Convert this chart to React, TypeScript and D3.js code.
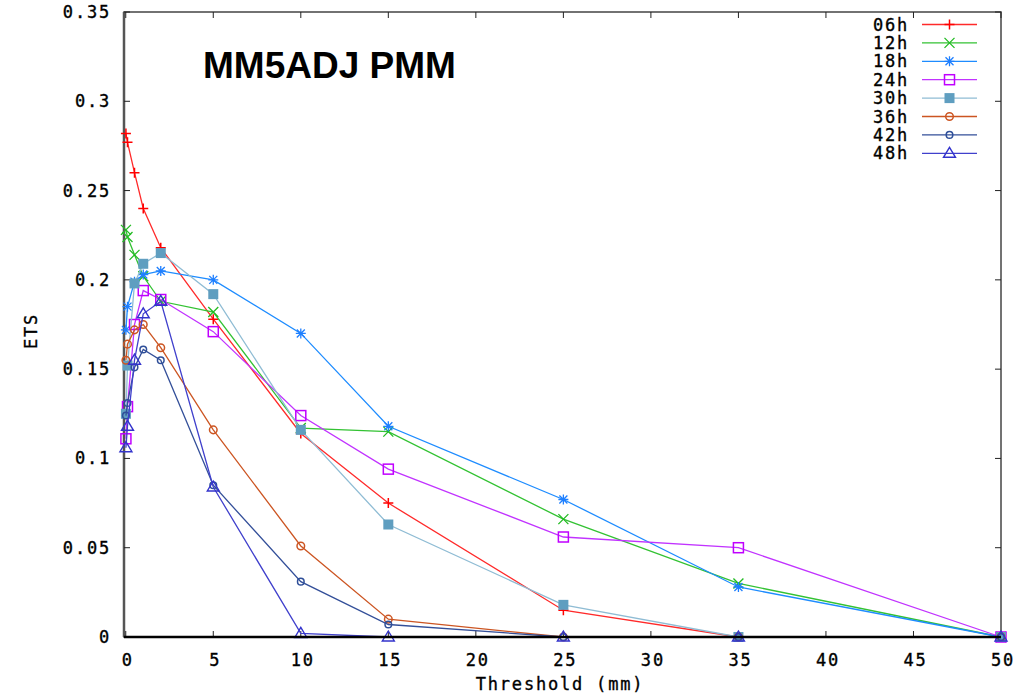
import React, { useEffect, useRef } from 'react';
import * as d3 from 'd3';

// thresholds (mm)
const thresholds = [0.01, 0.1, 0.5, 1, 2, 5, 10, 15, 25, 35, 50];

const s06h = [0.282, 0.277, 0.260, 0.240, 0.218, 0.178, 0.114, 0.075, 0.015, 0, 0];
const s12h = [0.228, 0.224, 0.214, 0.202, 0.188, 0.182, 0.117, 0.115, 0.066, 0.030, 0];
const s18h = [0.172, 0.185, 0.199, 0.203, 0.205, 0.200, 0.170, 0.118, 0.077, 0.028, 0];
const s24h = [0.111, 0.129, 0.175, 0.194, 0.189, 0.171, 0.124, 0.094, 0.056, 0.050, 0];
const s30h = [0.125, 0.152, 0.198, 0.209, 0.215, 0.192, 0.116, 0.063, 0.018, 0, 0];
const s36h = [0.155, 0.164, 0.172, 0.175, 0.162, 0.116, 0.051, 0.010, 0, 0, 0];
const s42h = [0.124, 0.131, 0.151, 0.161, 0.155, 0.085, 0.031, 0.007, 0, 0, 0];
const s48h = [0.106, 0.118, 0.155, 0.181, 0.188, 0.084, 0.002, 0, 0, 0, 0];

const seriesNames = ['06h', '12h', '18h', '24h', '30h', '36h', '42h', '48h'];
const seriesValues = [s06h, s12h, s18h, s24h, s30h, s36h, s42h, s48h];
const lineColors = ['#ff2a2a', '#33c233', '#1e8cff', '#c133ff', '#8fbcd4', '#cc5522', '#334f99', '#4040cc'];
const markColors = ['#ff0000', '#22bb22', '#1e7fff', '#c000ff', '#5f9ec0', '#cc5522', '#2f4f99', '#3333cc'];
const markers = ['plus', 'cross', 'star', 'square', 'fsquare', 'circle', 'circle2', 'triangle'];

const xTicks = [0, 5, 10, 15, 20, 25, 30, 35, 40, 45, 50];
const yTicks = [0, 0.05, 0.1, 0.15, 0.2, 0.25, 0.3, 0.35];
const yTickLabels = ['0', '0.05', '0.1', '0.15', '0.2', '0.25', '0.3', '0.35'];

const W = 1027;
const H = 696;
const left = 124, right = 1001, top = 12, bottom = 637;
const mono = '"DejaVu Sans Mono", monospace';

const drawMarker = (g, kind, x, y, color) => {
  const r = 5;
  if (kind === 'plus') {
    g.append('path').attr('d', `M${x - r},${y}H${x + r}M${x},${y - r}V${y + r}`)
      .attr('stroke', color).attr('stroke-width', 1.5);
  } else if (kind === 'cross') {
    g.append('path').attr('d', `M${x - r},${y - r}L${x + r},${y + r}M${x - r},${y + r}L${x + r},${y - r}`)
      .attr('stroke', color).attr('stroke-width', 1.3);
  } else if (kind === 'star') {
    g.append('path')
      .attr('d', `M${x - r},${y}H${x + r}M${x},${y - r}V${y + r}M${x - 4},${y - 4}L${x + 4},${y + 4}M${x - 4},${y + 4}L${x + 4},${y - 4}`)
      .attr('stroke', color).attr('stroke-width', 1.3);
  } else if (kind === 'square') {
    g.append('rect').attr('x', x - 5).attr('y', y - 5).attr('width', 10).attr('height', 10)
      .attr('fill', 'none').attr('stroke', color).attr('stroke-width', 1.5);
  } else if (kind === 'fsquare') {
    g.append('rect').attr('x', x - 5).attr('y', y - 5).attr('width', 10).attr('height', 10)
      .attr('fill', color);
  } else if (kind === 'circle') {
    g.append('circle').attr('cx', x).attr('cy', y).attr('r', 3.8)
      .attr('fill', 'none').attr('stroke', color).attr('stroke-width', 1.5);
  } else if (kind === 'circle2') {
    g.append('circle').attr('cx', x).attr('cy', y).attr('r', 3.3)
      .attr('fill', 'none').attr('stroke', color).attr('stroke-width', 1.5);
  } else if (kind === 'triangle') {
    g.append('path').attr('d', `M${x},${y - 6}L${x + 6},${y + 4}L${x - 6},${y + 4}Z`)
      .attr('fill', 'none').attr('stroke', color).attr('stroke-width', 1.4);
  }
};

const label = (sel) => sel
  .attr('font-family', mono).attr('font-size', 17).attr('letter-spacing', 1.8)
  .attr('fill', '#000').attr('stroke', '#000').attr('stroke-width', 0.35);

const App = () => {
  const svgRef = useRef(null);

  useEffect(() => {
    const svg = d3.select(svgRef.current);
    svg.selectAll('*').remove();

    const x = d3.scaleLinear().domain([-0.1, 50]).range([left, right]);
    const y = d3.scaleLinear().domain([0, 0.35]).range([bottom, top]);

    svg.append('rect').attr('width', W).attr('height', H).attr('fill', '#fff');

    // frame
    svg.append('rect').attr('x', left).attr('y', top).attr('width', right - left).attr('height', bottom - top)
      .attr('fill', 'none').attr('stroke', '#444').attr('stroke-width', 1.5);
    svg.append('line').attr('x1', left).attr('x2', left).attr('y1', top).attr('y2', bottom)
      .attr('stroke', '#555').attr('stroke-width', 2.5);

    // ticks, mirrored
    const tk = 6;
    yTicks.forEach((v, i) => {
      const py = y(v);
      svg.append('line').attr('x1', left).attr('x2', left + tk).attr('y1', py).attr('y2', py).attr('stroke', '#222');
      svg.append('line').attr('x1', right).attr('x2', right - tk).attr('y1', py).attr('y2', py).attr('stroke', '#222');
      svg.append('text').attr('x', 111).attr('y', py + 6).attr('text-anchor', 'end')
        .call(label).text(yTickLabels[i]);
    });
    xTicks.forEach(v => {
      const px = x(v);
      svg.append('line').attr('x1', px).attr('x2', px).attr('y1', bottom).attr('y2', bottom - tk).attr('stroke', '#222');
      svg.append('line').attr('x1', px).attr('x2', px).attr('y1', top).attr('y2', top + tk).attr('stroke', '#222');
      svg.append('text').attr('x', px + 2).attr('y', 666).attr('text-anchor', 'middle')
        .call(label).text(String(v));
    });

    // series
    const line = d3.line().x(d => x(d[0])).y(d => y(d[1]));
    seriesValues.forEach((vals, si) => {
      const pts = thresholds.map((t, i) => [t, vals[i]]);
      svg.append('path').datum(pts).attr('d', line)
        .attr('fill', 'none').attr('stroke', lineColors[si]).attr('stroke-width', 1.3);
      const g = svg.append('g');
      pts.forEach(p => drawMarker(g, markers[si], x(p[0]), y(p[1]), markColors[si]));
    });

    // bold zero axis
    svg.append('line').attr('x1', left).attr('x2', right).attr('y1', bottom).attr('y2', bottom)
      .attr('stroke', '#000').attr('stroke-width', 2.5);

    // legend
    seriesNames.forEach((name, i) => {
      const ly = 24.5 + i * 18.4;
      svg.append('text').attr('x', 909).attr('y', ly + 6).attr('text-anchor', 'end')
        .call(label).text(name);
      svg.append('line').attr('x1', 922).attr('x2', 977).attr('y1', ly).attr('y2', ly)
        .attr('stroke', lineColors[i]).attr('stroke-width', 1.3);
      drawMarker(svg.append('g'), markers[i], 949.5, ly, markColors[i]);
    });

    // title & axis labels
    svg.append('text').attr('x', 203).attr('y', 78)
      .attr('font-family', '"Liberation Sans", Arial, sans-serif').attr('font-weight', 'bold')
      .attr('font-size', 37).attr('fill', '#000').text('MM5ADJ PMM');
    svg.append('text').attr('x', 560).attr('y', 690).attr('text-anchor', 'middle')
      .call(label).text('Threshold (mm)');
    svg.append('text').attr('transform', 'translate(37,331) rotate(-90)').attr('text-anchor', 'middle')
      .call(label).text('ETS');
  }, []);

  return (
    <svg ref={svgRef} width={W} height={H} style={{ position: 'absolute', left: 0, top: 0 }}></svg>
  );
};

export default App;
